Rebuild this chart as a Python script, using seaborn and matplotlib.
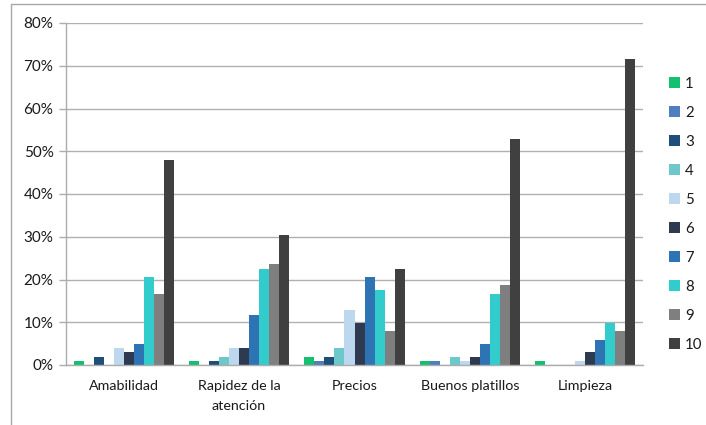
import matplotlib
matplotlib.use("Agg")
import matplotlib.pyplot as plt
from matplotlib.lines import Line2D
from matplotlib.ticker import PercentFormatter, FixedLocator
import seaborn as sns
import pandas as pd

# Survey aspects and rating scale
categories = ["Amabilidad", "Rapidez de la\natención", "Precios", "Buenos platillos", "Limpieza"]
ratings = ["1", "2", "3", "4", "5", "6", "7", "8", "9", "10"]

# Share of responses (%) per rating, one list per aspect
amabilidad = [0.98, 0.0, 1.96, 0.0, 3.92, 2.94, 4.90, 20.59, 16.67, 48.04]
rapidez = [0.98, 0.0, 0.98, 1.96, 3.92, 3.92, 11.76, 22.55, 23.53, 30.39]
precios = [1.96, 0.98, 1.96, 3.92, 12.75, 9.80, 20.59, 17.65, 7.84, 22.55]
platillos = [0.98, 0.98, 0.0, 1.96, 0.98, 1.96, 4.90, 16.67, 18.63, 52.94]
limpieza = [0.98, 0.0, 0.0, 0.0, 0.98, 2.94, 5.88, 9.80, 7.84, 71.57]

palette = ["#12C070", "#4F7FBE", "#1F4E7A", "#6CC8CA", "#BDD7EE",
           "#2E3A50", "#2E74B5", "#33CCCC", "#7F7F7F", "#404040"]

series = [amabilidad, rapidez, precios, platillos, limpieza]
rows = []
for cat, vals in zip(categories, series):
    for r, v in zip(ratings, vals):
        rows.append({"aspecto": cat, "calificacion": r, "porcentaje": v})
df = pd.DataFrame(rows)

sns.set_theme(style="white")
plt.rcParams["font.family"] = ["Lato", "DejaVu Sans"]

fig = plt.figure(figsize=(7.06, 4.25), dpi=100)
ax = fig.add_axes([66 / 706, 1 - 365 / 425, (643 - 66) / 706, (365 - 23) / 425])

sns.barplot(data=df, x="aspecto", y="porcentaje", hue="calificacion",
            hue_order=ratings, order=categories, palette=palette, saturation=1,
            width=0.87, gap=0, linewidth=0, ax=ax, legend=True)

ax.set_ylim(0, 80)
ax.set_xlim(-0.5, len(categories) - 0.5)
ax.yaxis.set_major_locator(FixedLocator(range(0, 81, 10)))
ax.yaxis.set_major_formatter(PercentFormatter(decimals=0))
ax.grid(axis="y", color="#B0B0B0", linewidth=1.0)
ax.set_axisbelow(True)
ax.set_xlabel("")
ax.set_ylabel("")

for side in ["top", "right"]:
    ax.spines[side].set_visible(False)
for side in ["left", "bottom"]:
    ax.spines[side].set_color("#ACACAC")
    ax.spines[side].set_linewidth(1.0)

# Category separators as ticks on the x axis
ax.set_xticks([i for i in range(len(categories))])
ax.set_xticklabels(categories, fontsize=10.3, color="#1A1A1A", linespacing=1.75)
ax.tick_params(axis="x", length=0, pad=11)
ax.set_xticks([i - 0.5 for i in range(len(categories) + 1)], minor=True)
ax.tick_params(axis="x", which="minor", length=5, color="#ACACAC", width=1)
ax.tick_params(axis="y", length=5, color="#ACACAC", width=1, labelsize=11,
               labelcolor="#1A1A1A", pad=4, left=True)

leg = ax.legend(loc="upper left", bbox_to_anchor=(1.035, 0.86), frameon=False,
                fontsize=10.8, handlelength=0.75, handleheight=0.75,
                handletextpad=0.3, labelspacing=1.0, borderaxespad=0)
for t in leg.get_texts():
    t.set_color("#1A1A1A")

# Chart frame: top and left edges
fig.add_artist(Line2D([11 / 706, 1.0], [1 - 4 / 425, 1 - 4 / 425],
                      transform=fig.transFigure, color="#A8A8A8", linewidth=1.0))
fig.add_artist(Line2D([11 / 706, 11 / 706], [0.0, 1 - 4 / 425],
                      transform=fig.transFigure, color="#A8A8A8", linewidth=1.0))

fig.savefig("out.png", dpi=100)
